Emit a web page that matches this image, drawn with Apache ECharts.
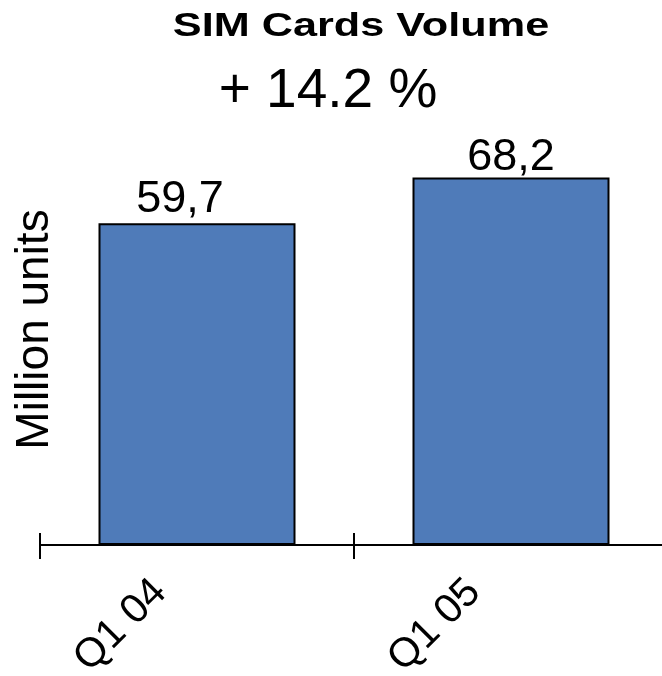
<!DOCTYPE html>
<html>
<head>
<meta charset="utf-8">
<style>
  html, body { margin: 0; padding: 0; background: #fff; }
  #chart { width: 662px; height: 676px; }
</style>
<script src="https://cdn.jsdelivr.net/npm/echarts@6/dist/echarts.min.js"></script>
</head>
<body>
<div id="chart"></div>
<script>
// Quarterly SIM card shipments, million units
const categories = ['Q1 04', 'Q1 05'];
const volumes = [59.7, 68.2];
const titleText = 'SIM Cards Volume';
const growthText = '+ 14.2 %';
const yAxisName = 'Million units';

const FONT = '"Liberation Sans", Arial, sans-serif';
const BAR_COLOR = '#4F7BB9';

const chart = echarts.init(document.getElementById('chart'), null, { renderer: 'canvas' });

// Diagonal category labels, pulled left of their tick through rich-text padding
const labelStyles = {
  cat: { fontSize: 41, fontFamily: FONT, color: '#000', padding: [0, 48, 8, 0] }
};

const option = {
  animation: false,
  backgroundColor: '#fff',
  graphic: [
    {
      type: 'text',
      x: 361, y: 27,
      scaleX: 1.31,
      style: {
        text: titleText,
        font: 'bold 33px ' + FONT,
        fill: '#000',
        textAlign: 'center',
        textVerticalAlign: 'middle'
      }
    },
    {
      type: 'text',
      x: 328, y: 92,
      style: {
        text: growthText,
        font: '55px ' + FONT,
        fill: '#000',
        textAlign: 'center',
        textVerticalAlign: 'middle'
      }
    }
  ],
  grid: { left: 40, right: -6, top: 114, bottom: 131, containLabel: false, outerBoundsMode: 'none' },
  xAxis: [
    {
      type: 'category',
      data: categories,
      axisLine: { show: true, lineStyle: { color: '#000', width: 2 } },
      axisTick: { show: true, length: 14, lineStyle: { color: '#000', width: 2 } },
      axisLabel: {
        show: true,
        rotate: 45,
        margin: 10,
        interval: 0,
        formatter: v => '{cat|' + v + '}',
        rich: labelStyles
      },
      splitLine: { show: false }
    },
    {
      // upward half of the tick marks
      type: 'category',
      data: categories,
      position: 'bottom',
      axisLine: { show: false },
      axisTick: { show: true, inside: true, length: 12, lineStyle: { color: '#000', width: 2 } },
      axisLabel: { show: false },
      splitLine: { show: false }
    }
  ],
  yAxis: {
    type: 'value',
    min: 0,
    max: 80,
    axisLine: { show: false },
    axisTick: { show: false },
    axisLabel: { show: false },
    splitLine: { show: false },
    name: yAxisName,
    nameLocation: 'middle',
    nameGap: -18,
    nameTextStyle: { fontSize: 46, fontFamily: FONT, color: '#000' }
  },
  series: [
    {
      type: 'bar',
      xAxisIndex: 0,
      data: volumes.map((v, i) => i === 0 ? { value: v, label: { offset: [-17, -4] } } : v),
      barWidth: 197,
      itemStyle: { color: BAR_COLOR, borderColor: '#000', borderWidth: 2 },
      label: {
        show: true,
        position: 'top',
        distance: -3,
        fontSize: 45,
        fontFamily: FONT,
        color: '#000',
        formatter: p => String(p.value).replace('.', ',')
      }
    }
  ]
};

chart.setOption(option);
</script>
</body>
</html>
